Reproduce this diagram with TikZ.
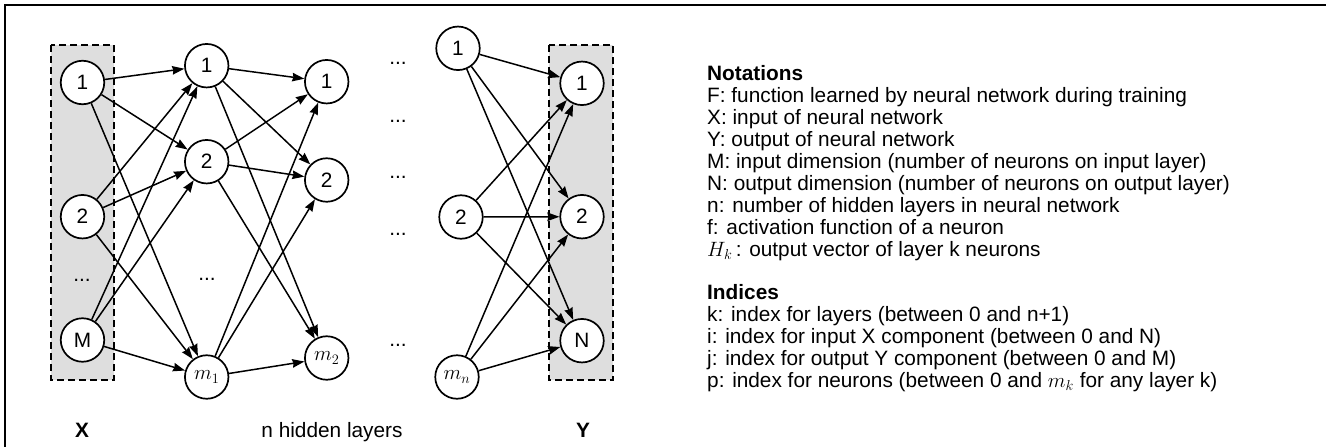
\documentclass[tikz,border=0pt]{standalone}
\usepackage{fontspec}
\setmainfont{Liberation Sans}
\usetikzlibrary{arrows.meta}
\newcommand{\fsz}{\fontsize{20.8}{22}\selectfont}
\begin{document}
\begin{tikzpicture}[x=1pt,y=-1pt,
  neuron/.style={circle,draw,line width=1.7pt,minimum size=43.5pt,inner sep=0pt,fill=white,font=\fsz},
  conn/.style={line width=1.5pt,-{Stealth[length=12pt,width=8.5pt,inset=1pt]}},
  layerbox/.style={draw,line width=1.6pt,fill=black!13,dash pattern=on 7pt off 4pt},
  dotlbl/.style={font=\fsz,inner sep=0pt},
  txt/.style={font=\fsz,anchor=base west,inner sep=0pt},
  boldtxt/.style={font=\fsz\bfseries,anchor=base west,inner sep=0pt},
  lbl/.style={font=\fsz,anchor=base,inner sep=0pt}]
\clip (0,0) rectangle (1326,447);
\draw[line width=2.5pt] (5,5) rectangle (1400,500);
% layer boxes
\path[layerbox] (51,45) rectangle (114,380);
\path[layerbox] (549,45) rectangle (613,380);
% neurons
\node[neuron] (x1) at (82.5,82.5) {1};
\node[neuron] (x2) at (82.5,216.7) {2};
\node[neuron] (xm) at (82.5,340) {M};
\node[neuron] (a1) at (206.7,65.7) {1};
\node[neuron] (a2) at (206.7,161.7) {2};
\node[neuron] (am) at (206.7,377) {$m_1$};
\node[neuron] (b1) at (326.7,81.7) {1};
\node[neuron] (b2) at (326.7,180) {2};
\node[neuron] (bm) at (326.7,358) {$m_2$};
\node[neuron] (c1) at (458,48.3) {1};
\node[neuron] (c2) at (461,217) {2};
\node[neuron] (cm) at (457,377) {$m_n$};
\node[neuron] (y1) at (582,83.3) {1};
\node[neuron] (y2) at (582,216.7) {2};
\node[neuron] (yn) at (582,340.7) {N};
% connections
\foreach \s in {x1,x2,xm}{\foreach \t in {a1,a2,am}{\draw[conn] (\s) -- (\t);}}
\foreach \s in {a1,a2,am}{\foreach \t in {b1,b2,bm}{\draw[conn] (\s) -- (\t);}}
\foreach \s in {c1,c2,cm}{\foreach \t in {y1,y2,yn}{\draw[conn] (\s) -- (\t);}}
% dots
\node[dotlbl] (dx) at (82,280) {...};
\node[dotlbl] (da) at (207,279) {...};
\node[dotlbl] (d1) at (398,63) {...};
\node[dotlbl] (d2) at (398,121) {...};
\node[dotlbl] (d3) at (398,177) {...};
\node[dotlbl] (d4) at (398,234) {...};
\node[dotlbl] (d5) at (398,345) {...};
% bottom labels
\node[lbl,font=\fsz\bfseries] (lx) at (82,437) {X};
\node[lbl] (lh) at (332,437) {n hidden layers};
\node[lbl,font=\fsz\bfseries] (ly) at (583,437) {Y};
% notations
\node[boldtxt] (t0) at (707,80) {Notations};
\node[txt] (t1) at (707,102) {F: function learned by neural network during training};
\node[txt] (t2) at (707,124) {X: input of neural network};
\node[txt] (t3) at (707,146) {Y: output of neural network};
\node[txt] (t4) at (707,168) {M: input dimension (number of neurons on input layer)};
\node[txt] (t5) at (707,190) {N: output dimension (number of neurons on output layer)};
\node[txt] (t6) at (707,212) {n: number of hidden layers in neural network};
\node[txt] (t7) at (707,234) {f: activation function of a neuron};
\node[txt] (t8) at (707,256) {$H_k$\,: output vector of layer k neurons};
\node[boldtxt] (i0) at (707,299) {Indices};
\node[txt] (i1) at (707,321) {k: index for layers (between 0 and n+1)};
\node[txt] (i2) at (707,343) {i: index for input X component (between 0 and N)};
\node[txt] (i3) at (707,365) {j: index for output Y component (between 0 and M)};
\node[txt] (i4) at (707,387) {p: index for neurons (between 0 and $m_k$ for any layer k)};
\end{tikzpicture}
\end{document}
